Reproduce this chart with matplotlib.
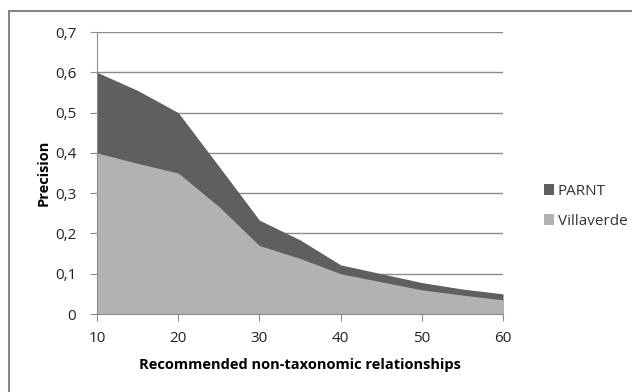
import matplotlib.pyplot as plt
from matplotlib.lines import Line2D
from matplotlib.ticker import FuncFormatter

# values
x_vals = [10, 15, 20, 25, 30, 35, 40, 45, 50, 55, 60]
parnt = [0.60, 0.555, 0.50, 0.367, 0.233, 0.184, 0.122, 0.100, 0.078, 0.062, 0.050]
villaverde = [0.40, 0.374, 0.35, 0.267, 0.170, 0.138, 0.100, 0.080, 0.060, 0.047, 0.035]
series_names = ["PARNT", "Villaverde"]
y_ticks = [0, 0.1, 0.2, 0.3, 0.4, 0.5, 0.6, 0.7]
x_ticks = [10, 20, 30, 40, 50, 60]

dark = "#5f5f5f"
light = "#b2b2b2"
grid_col = "#8c8c8c"
font = ["Open Sans", "DejaVu Sans"]

fig = plt.figure(figsize=(6.32, 3.92), dpi=100)
ax = fig.add_axes([97 / 632, 1 - 314 / 392, (503 - 97) / 632, (314 - 32) / 392])

ax.fill_between(x_vals, 0, parnt, color=dark, linewidth=0, label=series_names[0], zorder=2)
ax.fill_between(x_vals, 0, villaverde, color=light, linewidth=0, label=series_names[1], zorder=3)

ax.set_xlim(10, 60)
ax.set_ylim(0, 0.7)
ax.set_xticks(x_ticks)
ax.set_yticks(y_ticks)
ax.yaxis.set_major_formatter(FuncFormatter(lambda v, p: "0" if v == 0 else f"{v:.1f}".replace(".", ",")))
ax.grid(axis="y", color=grid_col, linewidth=1, zorder=1)
ax.set_axisbelow(True)

for s in ["top", "right"]:
    ax.spines[s].set_visible(False)
for s in ["left", "bottom"]:
    ax.spines[s].set_color(grid_col)
    ax.spines[s].set_zorder(4)
ax.tick_params(axis="both", colors=grid_col, length=5, labelcolor="#222222", labelsize=11)
ax.tick_params(axis="y", pad=10)
ax.tick_params(axis="x", pad=7)
for lbl in ax.get_xticklabels() + ax.get_yticklabels():
    lbl.set_family(font)

ax.set_xlabel("Recommended non-taxonomic relationships", fontsize=10.5, fontweight="bold",
              family=font, labelpad=9)
ax.set_ylabel("Precision", fontsize=10.5, fontweight="bold", family=font, labelpad=3)

handles, labels = ax.get_legend_handles_labels()
fig.legend(handles, labels, loc="upper left", bbox_to_anchor=(530 / 632, 1 - 170 / 392),
           frameon=False, prop={"family": font, "size": 11}, handlelength=0.7,
           handleheight=0.7, handletextpad=0.2, labelspacing=1.0, labelcolor="#333333")

# outer chart border (cropped on the right and bottom)
fig.add_artist(Line2D([9 / 632, 1.0], [1 - 11 / 392, 1 - 11 / 392], color="#868686", linewidth=1.5))
fig.add_artist(Line2D([9 / 632, 9 / 632], [0.0, 1 - 11 / 392], color="#868686", linewidth=1.5))

fig.savefig("out.png", dpi=100)
